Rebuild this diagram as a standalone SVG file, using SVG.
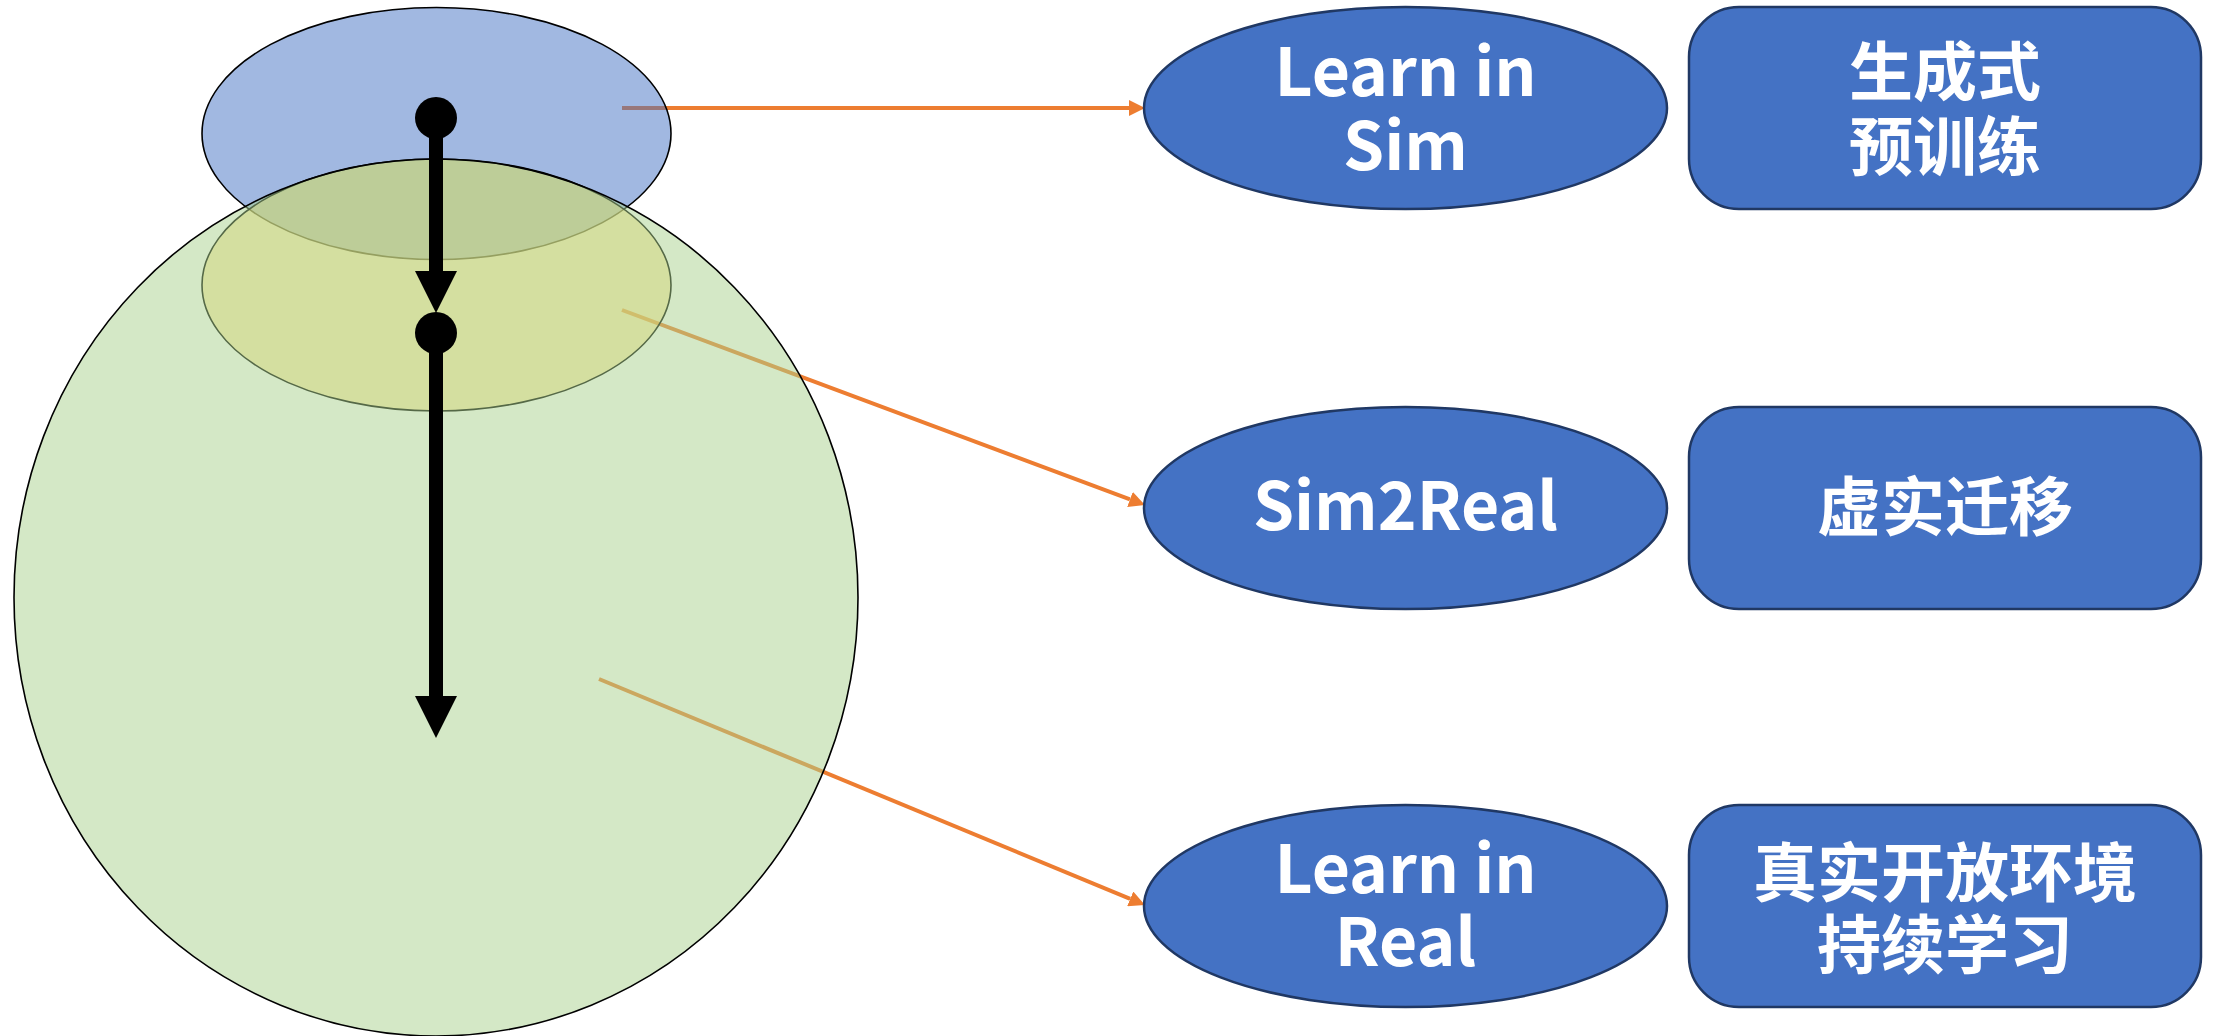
<svg xmlns="http://www.w3.org/2000/svg" width="2215" height="1036" viewBox="0 0 2215 1036">
<style>
.conn{stroke:#ED7D31;stroke-width:4;fill:none}
.flow{stroke:#000;stroke-width:14;fill:none}
.node{fill:#4472C4;stroke:#203864;stroke-width:2.5}
.lbl{fill:#fff;font-family:"Noto Sans CJK SC","Noto Sans",sans-serif;font-weight:700;text-anchor:middle}
.en{font-size:66px}
.zh{font-size:64px}
.zone{stroke:#000;stroke-width:1.6}
</style>
<defs>
<marker id="oa" markerUnits="userSpaceOnUse" markerWidth="18" markerHeight="16" refX="0" refY="8" orient="auto" viewBox="0 0 18 16">
<path d="M0,0 L16,8 L0,16 Z" fill="#ED7D31"/>
</marker>
<marker id="ba" markerUnits="userSpaceOnUse" markerWidth="42" markerHeight="44" refX="0" refY="21" orient="auto" viewBox="0 0 42 42">
<path d="M0,0 L42,21 L0,42 Z" fill="#000"/>
</marker>
<marker id="bd" markerUnits="userSpaceOnUse" markerWidth="44" markerHeight="44" refX="22" refY="22" orient="auto" viewBox="0 0 44 44">
<circle cx="22" cy="22" r="21" fill="#000"/>
</marker>
</defs>
<rect width="2215" height="1036" fill="#fff"/>
<g id="connectors">
<line class="conn" x1="622" y1="108" x2="1129" y2="108" marker-end="url(#oa)"/>
<line class="conn" x1="622" y1="310" x2="1130" y2="499.4" marker-end="url(#oa)"/>
<line class="conn" x1="599" y1="679" x2="1130.2" y2="898.9" marker-end="url(#oa)"/>
</g>
<g id="zone-sim">
<ellipse class="zone" cx="436.5" cy="133.5" rx="234.5" ry="126" fill="#4472C4" fill-opacity="0.5"/>
</g>
<g id="zone-sim2real">
<ellipse class="zone" cx="436.5" cy="285" rx="234.5" ry="126" fill="#FFD966" fill-opacity="0.5"/>
</g>
<g id="zone-real">
<ellipse class="zone" cx="436" cy="597.5" rx="422" ry="438.5" fill="#A9D18E" fill-opacity="0.5"/>
</g>
<g id="progress">
<line class="flow" x1="436" y1="118" x2="436" y2="271" marker-start="url(#bd)" marker-end="url(#ba)"/>
<line class="flow" x1="436" y1="333" x2="436" y2="696" marker-start="url(#bd)" marker-end="url(#ba)"/>
</g>
<g id="learn-in-sim">
<ellipse class="node" cx="1405.5" cy="108" rx="261.5" ry="101"/>
<text class="lbl en"><tspan x="1405.5" y="96">Learn in</tspan><tspan x="1405.5" y="170">Sim</tspan></text>
</g>
<g id="sim2real">
<ellipse class="node" cx="1405.5" cy="508" rx="261.5" ry="101"/>
<text class="lbl en" x="1405.5" y="530">Sim2Real</text>
</g>
<g id="learn-in-real">
<ellipse class="node" cx="1405.5" cy="906" rx="261.5" ry="101"/>
<text class="lbl en"><tspan x="1405.5" y="893">Learn in</tspan><tspan x="1405.5" y="966">Real</tspan></text>
</g>
<g id="pretrain">
<rect class="node" x="1689" y="7" width="512" height="202" rx="50" ry="50"/>
<text class="lbl zh"><tspan x="1945" y="95">生成式</tspan><tspan x="1945" y="170">预训练</tspan></text>
</g>
<g id="transfer">
<rect class="node" x="1689" y="407" width="512" height="202" rx="50" ry="50"/>
<text class="lbl zh" x="1945" y="530">虚实迁移</text>
</g>
<g id="continual">
<rect class="node" x="1689" y="805" width="512" height="202" rx="50" ry="50"/>
<text class="lbl zh"><tspan x="1945" y="896">真实开放环境</tspan><tspan x="1945" y="968">持续学习</tspan></text>
</g>
</svg>
